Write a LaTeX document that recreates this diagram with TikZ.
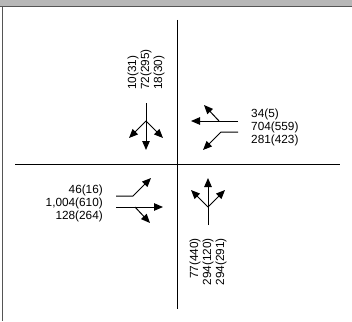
\documentclass[tikz,border=0pt]{standalone}
\usepackage{fontspec}
\setmainfont{Liberation Sans}
\usetikzlibrary{arrows.meta}
\definecolor{bandgris}{HTML}{B7B7B7}
\definecolor{bordgris}{HTML}{555555}

\begin{document}
\begin{tikzpicture}[x=1pt, y=-1pt,
    font=\fontsize{11.8}{13}\selectfont,
    axe/.style={draw=black, line width=1pt},
    branche/.style={draw=black, line width=1pt},
    mouvement/.style={draw=black, line width=1pt, -{Triangle[length=9pt,width=7.5pt]}},
    volume/.style={inner sep=0pt}
  ]
    \useasboundingbox (0,0) rectangle (352,321);
    \fill[bandgris] (0,0) rectangle (352,6);
    \draw[bordgris, line width=1.2pt] (0,6.5) -- (352,6.5);
    \draw[bordgris, line width=1.2pt] (2.5,6.5) -- (2.5,321);
    % axes of the crossing
    \coordinate (nord) at (177,20);
    \coordinate (sud) at (177,309);
    \coordinate (ouest) at (15,164);
    \coordinate (est) at (340,164);
    \draw[axe] (nord) -- (sud);
    \draw[axe] (ouest) -- (est);
    % north approach
    \node[volume, rotate=90, anchor=west, align=left] (vnord) at (146,90) {10(31)\\72(295)\\18(30)};
    \coordinate (nA) at (146,103);
    \coordinate (nJ) at (146,121);
    \coordinate (nT) at (146,150);
    \coordinate (nL) at (129,138);
    \coordinate (nR) at (163,138);
    \draw[branche] (nA) -- (nJ);
    \draw[mouvement] (nJ) -- (nT);
    \draw[mouvement] (nJ) -- (nL);
    \draw[mouvement] (nJ) -- (nR);
    % east approach
    \node[volume, anchor=west, align=left] (vest) at (251,127) {34(5)\\704(559)\\281(423)};
    \coordinate (eA) at (238,121);
    \coordinate (eT) at (191,121);
    \coordinate (eJ) at (219,121);
    \coordinate (eR) at (204,105);
    \coordinate (eB) at (238,132);
    \coordinate (eK) at (221,132);
    \coordinate (eL) at (203,150);
    \draw[mouvement] (eA) -- (eT);
    \draw[mouvement] (eJ) -- (eR);
    \draw[mouvement] (eB) -- (eK) -- (eL);
    % west approach
    \node[volume, anchor=east, align=right] (vouest) at (103,203) {46(16)\\1,004(610)\\128(264)};
    \coordinate (wB) at (116,196);
    \coordinate (wK) at (133,196);
    \coordinate (wL) at (151,178);
    \coordinate (wA) at (116,207);
    \coordinate (wT) at (163,207);
    \coordinate (wJ) at (135,207);
    \coordinate (wR) at (150,223);
    \draw[mouvement] (wB) -- (wK) -- (wL);
    \draw[mouvement] (wA) -- (wT);
    \draw[mouvement] (wJ) -- (wR);
    % south approach
    \node[volume, rotate=90, anchor=east, align=right] (vsud) at (208,238) {77(440)\\294(120)\\294(291)};
    \coordinate (sA) at (208,225);
    \coordinate (sJ) at (208,207);
    \coordinate (sT) at (208,178);
    \coordinate (sL) at (191,190);
    \coordinate (sR) at (225,190);
    \draw[branche] (sA) -- (sJ);
    \draw[mouvement] (sJ) -- (sT);
    \draw[mouvement] (sJ) -- (sL);
    \draw[mouvement] (sJ) -- (sR);
\end{tikzpicture}
\end{document}
